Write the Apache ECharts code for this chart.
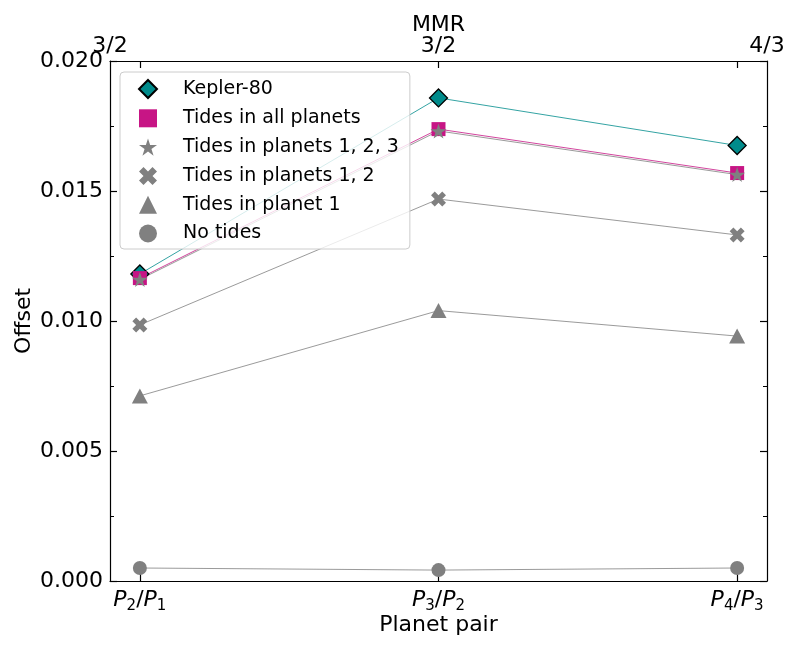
<!DOCTYPE html>
<html>
<head>
<meta charset="utf-8">
<script src="https://cdn.jsdelivr.net/npm/echarts@6/dist/echarts.min.js"></script>
<style>
    html, body { margin: 0; padding: 0; background: #fff; }
    #main { width: 800px; height: 650px; }
</style>
</head>
<body>
<div id="main"></div>
<script>
//横轴：行星对（下）与共振（上）
var pairPos = [0, 1, 2];
var pairLabels = ['P2/P1', 'P3/P2', 'P4/P3'];
var mmrPos = [0, 0.5, 1];
var mmrLabels = ['3/2', '3/2', '4/3'];

//各组偏移量
var kepler80 = [0.01181, 0.01858, 0.01675];
var tidesAll = [0.01165, 0.01738, 0.01569];
var tides123 = [0.01160, 0.01731, 0.01563];
var tides12 = [0.00985, 0.01469, 0.01331];
var tides1 = [0.00712, 0.01040, 0.00942];
var noTides = [0.00050, 0.00042, 0.00050];

var FONT = 'DejaVu Sans';
var STAR = 'path://M50,0 L61.23,34.55 L97.55,34.55 L68.17,55.9 L79.39,90.45 L50,69.1 L20.61,90.45 L31.83,55.9 L2.45,34.55 L38.77,34.55 Z';
var CROSS = 'path://M25,0 L50,25 L75,0 L100,25 L75,50 L100,75 L75,100 L50,75 L25,100 L0,75 L25,50 L0,25 Z';

//把数值配成 [x, y]
function toPoints(values) {
    return values.map(function(v, i) { return [pairPos[i], v]; });
}

//P2/P1 -> 斜体 P 加下标
function pairRich(label) {
    var parts = label.split('/');
    return parts.map(function(p) {
        return '{i|' + p.charAt(0) + '}{s|' + p.slice(1) + '}';
    }).join('{n|/}');
}

function makeSeries(name, values, symbol, size, color, lineColor, border) {
    return {
        name: name,
        type: 'line',
        data: toPoints(values),
        symbol: symbol,
        symbolSize: size,
        showAllSymbol: true,
        itemStyle: {
            color: color,
            borderColor: border ? '#000' : color,
            borderWidth: border ? 1.3 : 0,
            opacity: 1
        },
        lineStyle: { color: lineColor, width: 0.8 },
        emphasis: { disabled: true },
        animation: false
    };
}

var series = [
    makeSeries('Kepler-80', kepler80, 'diamond', 18, '#008B8B', '#008B8B', true),
    makeSeries('Tides in all planets', tidesAll, 'rect', 14, '#C71585', '#C71585', false),
    makeSeries('Tides in planets 1, 2, 3', tides123, STAR, [16, 15], '#808080', '#808080', false),
    makeSeries('Tides in planets 1, 2', tides12, CROSS, 15, '#808080', '#808080', false),
    makeSeries('Tides in planet 1', tides1, 'triangle', [16, 15], '#808080', '#808080', false),
    makeSeries('No tides', noTides, 'circle', 14, '#808080', '#808080', false)
];

var blackLine = { show: true, onZero: false, lineStyle: { color: '#000', width: 1.2 } };

var option = {
    backgroundColor: '#fff',
    textStyle: { fontFamily: FONT },
    grid: { left: 110, right: 33, top: 61, bottom: 69 },
    legend: {
        orient: 'vertical',
        left: 120,
        top: 72,
        padding: [7, 11, 6, 18],
        itemWidth: 18,
        itemHeight: 18,
        itemGap: 9.8,
        backgroundColor: 'rgba(255,255,255,0.8)',
        borderColor: '#cccccc',
        borderWidth: 1,
        borderRadius: 4,
        textStyle: { fontFamily: FONT, fontSize: 19, color: '#000', padding: [0, 0, 0, 21] },
        data: series.map(function(s) { return { name: s.name, icon: s.symbol }; })
    },
    xAxis: [{
        type: 'value',
        position: 'bottom',
        min: -0.1,
        max: 2.1,
        name: 'Planet pair',
        nameLocation: 'middle',
        nameGap: 33,
        nameMoveOverlap: false,
        nameTextStyle: { fontFamily: FONT, fontSize: 22, color: '#000' },
        axisLine: blackLine,
        axisTick: { show: true, inside: true, length: 7, customValues: pairPos, lineStyle: { color: '#000', width: 1.2 } },
        axisLabel: {
            fontFamily: FONT, fontSize: 22, color: '#000', margin: 6,
            customValues: pairPos,
            formatter: function(v) { return pairRich(pairLabels[Math.round(v)]); },
            rich: {
                i: { fontFamily: FONT, fontSize: 22, fontStyle: 'italic', color: '#000' },
                s: { fontFamily: FONT, fontSize: 15, color: '#000', padding: [12, 0, 0, 0] },
                n: { fontFamily: FONT, fontSize: 22, color: '#000' }
            }
        },
        splitLine: { show: false }
    }, {
        //上方共振标签
        type: 'value',
        position: 'top',
        min: 0,
        max: 1,
        name: 'MMR',
        nameLocation: 'middle',
        nameGap: 25,
        nameMoveOverlap: false,
        nameTextStyle: { fontFamily: FONT, fontSize: 22, color: '#000' },
        axisLine: { show: false, onZero: false },
        axisTick: { show: false },
        axisLabel: {
            fontFamily: FONT, fontSize: 22, color: '#000', margin: 4,
            customValues: mmrPos,
            showMinLabel: true, showMaxLabel: true,
            formatter: function(v) {
                var i = mmrPos.indexOf(v);
                return i < 0 ? '' : mmrLabels[i];
            }
        },
        splitLine: { show: false }
    }, {
        //上边框的刻度
        type: 'value',
        position: 'top',
        min: -0.1,
        max: 2.1,
        axisLine: blackLine,
        axisTick: { show: true, inside: true, length: 7, customValues: pairPos, lineStyle: { color: '#000', width: 1.2 } },
        axisLabel: { show: false },
        splitLine: { show: false }
    }],
    yAxis: [{
        type: 'value',
        min: 0,
        max: 0.02,
        interval: 0.005,
        name: 'Offset',
        nameLocation: 'middle',
        nameGap: 75,
        nameMoveOverlap: false,
        nameTextStyle: { fontFamily: FONT, fontSize: 22, color: '#000' },
        axisLine: blackLine,
        axisTick: { show: true, inside: true, length: 7, lineStyle: { color: '#000', width: 1.2 } },
        minorTick: { show: true, splitNumber: 2, length: 4, lineStyle: { color: '#000', width: 1 } },
        axisLabel: {
            fontFamily: FONT, fontSize: 22, color: '#000', margin: 7,
            formatter: function(v) { return v.toFixed(3); }
        },
        splitLine: { show: false }
    }, {
        //右边框
        type: 'value',
        position: 'right',
        min: 0,
        max: 0.02,
        interval: 0.005,
        axisLine: blackLine,
        axisTick: { show: true, inside: true, length: 7, lineStyle: { color: '#000', width: 1.2 } },
        minorTick: { show: true, splitNumber: 2, length: 4, lineStyle: { color: '#000', width: 1 } },
        axisLabel: { show: false },
        splitLine: { show: false }
    }],
    series: series
};

var myChart = echarts.init(document.getElementById('main'));
myChart.setOption(option);
</script>
</body>
</html>
